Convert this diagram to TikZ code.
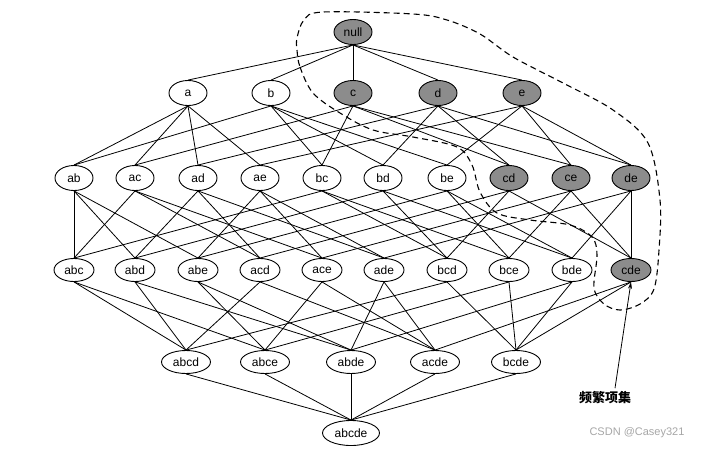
\documentclass[tikz,border=0pt]{standalone}
\usepackage{fontspec}
\setmainfont{Liberation Sans}
\newfontfamily\cjk{Noto Sans CJK SC}
\usetikzlibrary{shapes.geometric,arrows.meta}
\begin{document}
\begin{tikzpicture}[x=1pt,y=-1pt,
  set/.style={ellipse,draw,line width=0.9pt,minimum width=38pt,minimum height=25pt,inner sep=0pt,font=\fontsize{12}{14}\selectfont},
  setw/.style={set,minimum width=40pt,minimum height=23pt},
  setx/.style={set,minimum width=49pt,minimum height=23pt},
  freq/.style={fill=black!45},
  edge/.style={line width=0.8pt}]
\useasboundingbox (0,0) rectangle (709,450);
% level 0
\node[set,freq] (null) at (353,32) {null};
% level 1
\node[set] (a) at (188,93) {a};
\node[set] (b) at (271,93) {b};
\node[set,freq] (c) at (353,93) {c};
\node[set,freq] (d) at (438,93) {d};
\node[set,freq] (e) at (522,93) {e};
% level 2
\node[set] (ab) at (74,178) {ab};
\node[set] (ac) at (135,178) {ac};
\node[set] (ad) at (198,178) {ad};
\node[set] (ae) at (260,178) {ae};
\node[set] (bc) at (322,178) {bc};
\node[set] (bd) at (383,178) {bd};
\node[set] (be) at (447,178) {be};
\node[set,freq] (cd) at (509,178) {cd};
\node[set,freq] (ce) at (571,178) {ce};
\node[set,freq] (de) at (631,178) {de};
% level 3
\node[setw] (abc) at (74,270) {abc};
\node[setw] (abd) at (135,270) {abd};
\node[setw] (abe) at (198,270) {abe};
\node[setw] (acd) at (260,270) {acd};
\node[setw] (ace) at (322,270) {ace};
\node[setw] (ade) at (384,270) {ade};
\node[setw] (bcd) at (447,270) {bcd};
\node[setw] (bce) at (509,270) {bce};
\node[setw] (bde) at (572,270) {bde};
\node[setw,freq] (cde) at (631,270) {cde};
% level 4
\node[setx] (abcd) at (186,362) {abcd};
\node[setx] (abce) at (265,362) {abce};
\node[setx] (abde) at (351,362) {abde};
\node[setx] (acde) at (435,362) {acde};
\node[setx] (bcde) at (516,362) {bcde};
% level 5
\node[set,minimum width=57pt] (abcde) at (351,433) {abcde};
% edges
\foreach \p/\q in {null/a,null/b,null/c,null/d,null/e,
  a/ab,a/ac,a/ad,a/ae,b/ab,b/bc,b/bd,b/be,c/ac,c/bc,c/cd,c/ce,
  d/ad,d/bd,d/cd,d/de,e/ae,e/be,e/ce,e/de,
  ab/abc,ab/abd,ab/abe,ac/abc,ac/acd,ac/ace,ad/abd,ad/acd,ad/ade,
  ae/abe,ae/ace,ae/ade,bc/abc,bc/bcd,bc/bce,bd/abd,bd/bcd,bd/bde,
  be/abe,be/bce,be/bde,cd/acd,cd/bcd,cd/cde,ce/ace,ce/bce,ce/cde,
  de/ade,de/bde,de/cde,
  abc/abcd,abc/abce,abd/abcd,abd/abde,abe/abce,abe/abde,
  acd/abcd,acd/acde,ace/abce,ace/acde,ade/abde,ade/acde,
  bcd/abcd,bcd/bcde,bce/abce,bce/bcde,bde/abde,bde/bcde,
  cde/acde,cde/bcde,
  abcd/abcde,abce/abcde,abde/abcde,acde/abcde,bcde/abcde}
  \draw[edge] (\p.south) -- (\q.north);
% frequent itemset border
\draw[line width=1.1pt,dash pattern=on 6pt off 4pt]
  plot[smooth cycle,tension=0.55] coordinates {
  (297,50) (300,67) (313,93) (340,113) (373,130) (413,137) (457,147)
  (472,165) (480,192) (497,213) (530,220) (570,225) (592,237) (597,255)
  (594,288) (604,304) (620,310) (640,304) (654,289) (659,250) (660,200)
  (648,143) (613,110) (563,83) (513,57) (480,34) (447,20) (413,14)
  (323,12) (304,20) (297,38)};
% label and arrow
\node[font=\cjk\bfseries\fontsize{13}{15}\selectfont] (lbl) at (605,398) {频繁项集};
\draw[line width=0.8pt,-{Stealth[length=7pt,width=4pt]}] ([xshift=10pt]lbl.north) -- (cde.south);
% watermark
\node[text=black!35,font=\fontsize{11}{13}\selectfont] (wm) at (637,433) {CSDN @Casey321};
\end{tikzpicture}
\end{document}
